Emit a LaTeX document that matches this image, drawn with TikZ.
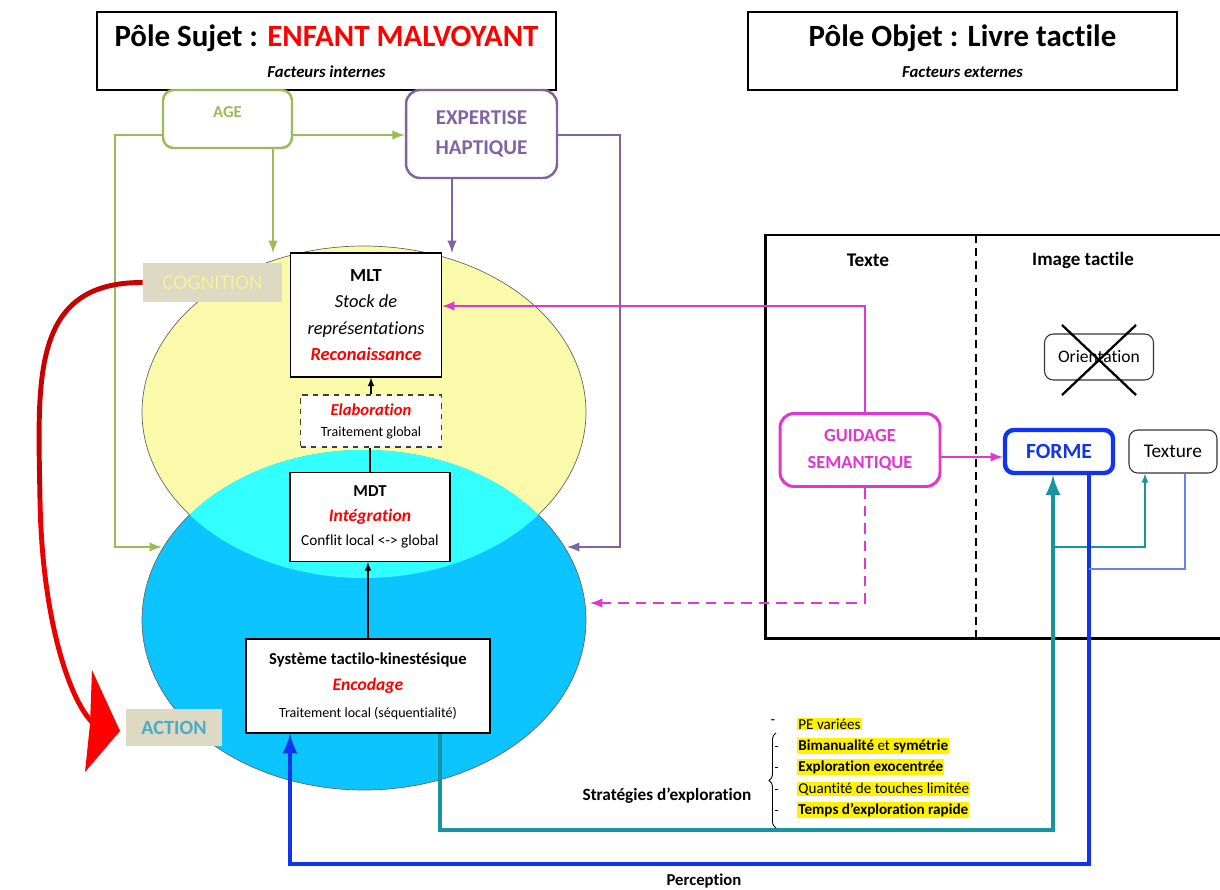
\documentclass[tikz,border=0pt]{standalone}
\usepackage{fontspec}
\setmainfont{Carlito}[Ligatures={NoCommon}]
\usepackage{xcolor}
\usetikzlibrary{arrows}
\usetikzlibrary{calc, positioning}
\usetikzlibrary{decorations.pathreplacing}
\definecolor{mygreen}{RGB}{155,187,89}
\definecolor{mypurple}{RGB}{128,100,162}
\definecolor{mymagenta}{RGB}{226,54,208}
\definecolor{myblue}{RGB}{16,52,240}
\definecolor{mythinblue}{RGB}{100,130,240}
\definecolor{myteal}{RGB}{23,148,160}
\definecolor{myyellow}{RGB}{250,250,170}
\definecolor{mysky}{RGB}{12,196,255}
\definecolor{mycyan}{RGB}{50,255,255}
\definecolor{mytan}{RGB}{221,217,195}
\definecolor{mycog}{RGB}{242,242,150}
\definecolor{myaction}{RGB}{75,172,198}
\definecolor{myred}{RGB}{255,0,0}
\newcommand{\fsz}[2]{\fontsize{#1}{#2}\selectfont}

\begin{document}
\begin{tikzpicture}[x=0.02cm, y=-0.02cm,
  titlebox/.style={draw, line width=1.1pt, minimum height=1.56cm},
  blackbox/.style={draw, line width=0.7pt, fill=white, inner sep=0pt, align=center},
  thinbox/.style={draw=black!80, line width=0.6pt, rounded corners=5pt, fill=white, font=\fsz{10}{12}},
  greenbox/.style={draw=mygreen, line width=1.4pt, rounded corners=6pt, fill=white},
  purplebox/.style={draw=mypurple, line width=1.4pt, rounded corners=8pt, fill=white},
  magbox/.style={draw=mymagenta, line width=1.7pt, rounded corners=8pt, fill=white},
  tagbox/.style={fill=mytan, inner sep=0pt},
  gline/.style={mygreen, line width=1.4pt},
  pline/.style={mypurple, line width=1.4pt},
  mline/.style={mymagenta, line width=1.4pt},
  tline/.style={myteal, line width=2.8pt},
  bline/.style={myblue, line width=2.8pt},
  hl/.style={fill=yellow, inner sep=0.6pt, anchor=west, font=\fsz{8.6}{10}}]
\useasboundingbox (0,0) rectangle (1220,889);

\coordinate (Y) at (364,412);
\coordinate (B) at (364,620);
\fill[myyellow] (Y) ellipse (222 and 166);
\fill[mysky] (B) ellipse (222 and 170);
\begin{scope}
\clip (Y) ellipse (222 and 166);
\fill[mycyan] (B) ellipse (222 and 170);
\end{scope}
\draw[black!60, line width=0.4pt] ($(Y)+(141.8:222 and 166)$) arc[start angle=141.8, end angle=398.2, x radius=222, y radius=166];
\draw[black!60, line width=0.4pt] ($(B)+(-38.2:222 and 170)$) arc[start angle=-38.2, end angle=218.2, x radius=222, y radius=170];

\node[titlebox, minimum width=9.18cm] (sujet) at (326.5,51) {};
\node[font=\bfseries\fsz{17.6}{20}] (sujetT) at (326.5,38) {Pôle Sujet : \textcolor{myred}{ENFANT MALVOYANT}};
\node[font=\bfseries\itshape\fsz{9.5}{11}] (sujetF) at (326.5,72) {Facteurs internes};
\node[titlebox, minimum width=8.58cm] (objet) at (962.5,51) {};
\node[font=\bfseries\fsz{17.6}{20}] (objetT) at (962.5,38) {Pôle Objet : Livre tactile};
\node[font=\bfseries\itshape\fsz{9.5}{11}] (objetF) at (962.5,72) {Facteurs externes};

\node[greenbox, minimum width=2.58cm, minimum height=1.16cm] (age) at (227.5,119) {};
\node[text=mygreen, font=\bfseries\fsz{9.5}{11}] (ageT) at (227.5,112) {AGE};
\node[purplebox, minimum width=3.02cm, minimum height=1.76cm, align=center, text=mypurple, font=\bfseries\fsz{12}{17}] (exp) at (481.5,134) {EXPERTISE\\HAPTIQUE};

\node[tagbox, minimum width=2.78cm, minimum height=0.78cm, text=mycog, font=\fsz{12}{14}] (cog) at (212.5,282.5) {COGNITION};
\node[tagbox, minimum width=1.92cm, minimum height=0.74cm, text=myaction, font=\bfseries\fsz{11.5}{13}] (act) at (174,727.5) {ACTION};

\node[blackbox, minimum width=3.02cm, minimum height=2.48cm, font=\fsz{10.5}{15}] (mlt) at (366,315) {\textbf{MLT}\\\textit{Stock de}\\\textit{représentations}\\{\color{myred}\bfseries\itshape Reconaissance}};
\node[blackbox, dashed, draw=black!75, minimum width=2.82cm, minimum height=1.04cm, font=\fsz{8}{12}] (elab) at (371,421) {{\fsz{9.5}{12}\color{myred}\bfseries\itshape Elaboration}\\Traitement global};
\node[blackbox, minimum width=3.2cm, minimum height=1.78cm, font=\fsz{9.5}{14}] (mdt) at (370,517) {\textbf{MDT}\\{\fsz{10}{14}\color{myred}\bfseries\itshape Intégration}\\{\fsz{8.7}{14}Conflit local <-> global}};
\node[blackbox, minimum width=4.88cm, minimum height=1.88cm, font=\fsz{9.5}{15}] (sys) at (368,686) {\textbf{Système tactilo-kinestésique}\\{\fsz{10}{15}\color{myred}\bfseries\itshape Encodage}\\{\fsz{8}{15}Traitement local (séquentialité)}};

\draw[-latex, line width=0.7pt] (elab.north) -- (elab.north |- mlt.south);
\draw[line width=0.7pt] (mdt.north) -- (mdt.north |- elab.south);
\draw[-latex, line width=0.7pt] (sys.north) -- (sys.north |- mdt.south);

\coordinate (gA) at (115,135);
\coordinate (gB) at (115,547);
\coordinate (gE) at (162,547);
\coordinate (gD) at (273,253);
\draw[gline, -latex] (age.west |- gA) -- (gA) -- (gB) -- (gE);
\draw[gline, -latex] (age.east |- gA) -- (exp.west |- gA);
\draw[gline, -latex] (age.south -| gD) -- (gD);
\coordinate (pA) at (620,135);
\coordinate (pB) at (620,547);
\coordinate (pE) at (567,547);
\coordinate (pD) at (452,253);
\draw[pline, -latex] (exp.east |- pA) -- (pA) -- (pB) -- (pE);
\draw[pline, -latex] (exp.south -| pD) -- (pD);

\coordinate (rM) at (40,500);
\coordinate (rE) at (92,722);
\draw[line width=2.8pt, red!78!black] (cog.west) .. controls (30,282) and (38,380) .. (rM);
\draw[line width=2.8pt, red!92!black] (rM) .. controls (42,620) and (70,700) .. (rE);
\fill[myred] (92,670) -- (120,731) -- (85,772) -- (90,724) -- cycle;

\draw[line width=1.7pt] (765,235) rectangle (1235,638);
\draw[line width=1.6pt, dash pattern=on 4.5pt off 3pt] (976,235) -- (976,638);
\node[font=\bfseries\fsz{11}{13}] (texte) at (868,260) {Texte};
\node[font=\bfseries\fsz{10.8}{13}] (image) at (1083,260) {Image tactile};

\node[thinbox, minimum width=2.18cm, minimum height=0.92cm] (ori) at (1099,357) {Orientation};
\draw[line width=1.3pt] ($(ori.center)+(-37,-32)$) -- ($(ori.center)+(37,38)$);
\draw[line width=1.3pt] ($(ori.center)+(37,-32)$) -- ($(ori.center)+(-37,38)$);

\node[magbox, minimum width=3.2cm, minimum height=1.46cm, align=center, text=mymagenta, font=\bfseries\fsz{10.5}{15}] (guid) at (860,450) {GUIDAGE\\SEMANTIQUE};
\node[draw=myblue, line width=2.5pt, rounded corners=5pt, fill=white, minimum width=2.16cm, minimum height=0.86cm, text=myblue, font=\bfseries\fsz{12.3}{15}] (forme) at (1059,451.5) {FORME};
\node[thinbox, minimum width=1.76cm, minimum height=0.86cm, font=\fsz{11}{13}] (tex) at (1173,451.5) {Texture};

\coordinate (mA) at (865,306);
\coordinate (mB) at (865,603);
\coordinate (mE) at (590,603);
\coordinate (mC) at (1003,457);
\draw[mline, -latex] (guid.north -| mA) -- (mA) -- (mlt.east |- mA);
\draw[mline, dash pattern=on 6pt off 4pt, -latex] (guid.south -| mB) -- (mB) -- (mE);
\draw[mline, -latex] (guid.east |- mC) -- (mC);

\coordinate (tA) at (440,830);
\coordinate (tB) at (1053,830);
\coordinate (tC) at (1053,547);
\coordinate (tD) at (1145,547);
\draw[tline, -latex] (sys.south -| tA) -- (tA) -- (tB) -- (forme.south -| tB);
\draw[myteal, line width=0.8pt, -latex] (tC) -- (tD) -- (tex.south -| tD);
\coordinate (bA) at (1089,864);
\coordinate (bB) at (290,864);
\coordinate (bC) at (1089,569);
\coordinate (bD) at (1185,569);
\draw[bline, -latex] (forme.south -| bA) -- (bA) -- (bB) -- (sys.south -| bB);
\draw[mythinblue, line width=0.8pt] (bC) -- (bD) -- (tex.south -| bD);

\node[font=\fsz{8.6}{10}] (tiret) at (773,722) {-};
\node[hl] (l1) at (797,724) {PE variées};
\node[hl] (l2) at (797,746) {\textbf{Bimanualité} et \textbf{symétrie}};
\node[hl] (l3) at (797,767) {\textbf{Exploration exocentrée}};
\node[hl] (l4) at (797,789) {Quantité de touches limitée};
\node[hl] (l5) at (797,810) {\textbf{Temps d’exploration rapide}};
\draw[decorate, decoration={brace, amplitude=4pt}, line width=0.5pt] (776,828) -- (776,733);
\foreach \yy in {746,767,789,810}
  \draw[line width=0.4pt] (775,\yy) -- (778,\yy);
\node[font=\bfseries\fsz{9.8}{11}] (strat) at (667,796) {Stratégies d’exploration};
\node[font=\bfseries\fsz{9.5}{11}] (perc) at (704,881) {Perception};
\end{tikzpicture}
\end{document}
